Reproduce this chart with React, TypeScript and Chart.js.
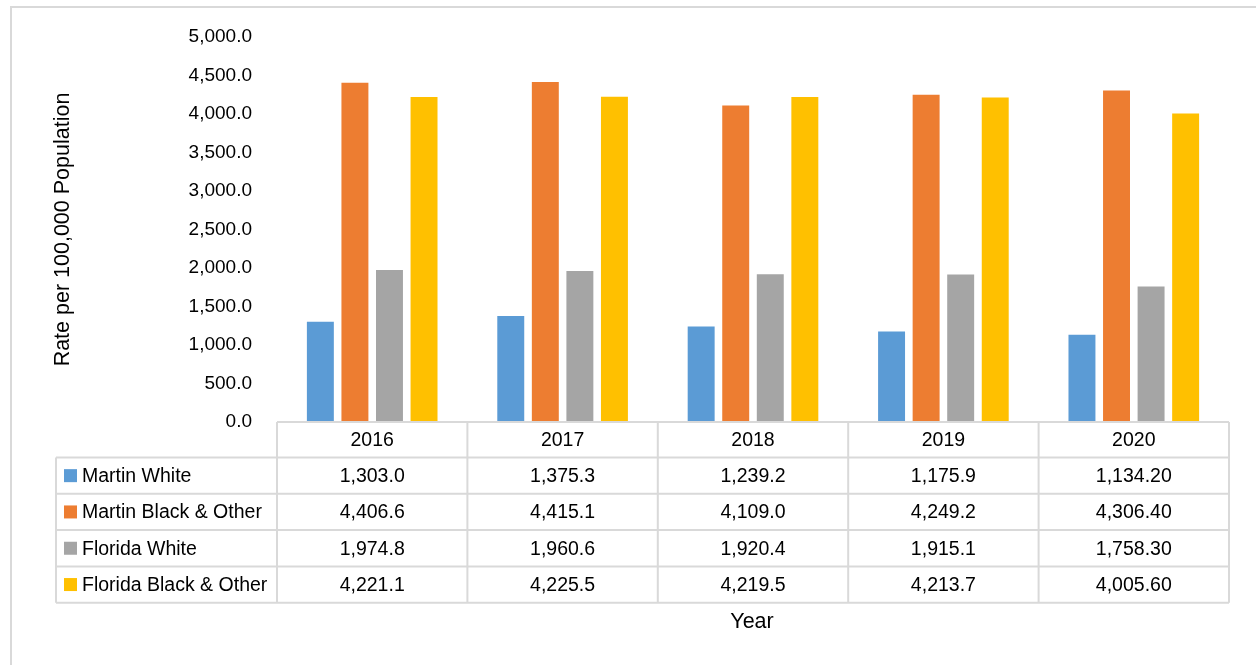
import React, { useEffect, useRef } from "react";
import { Chart, registerables } from "chart.js";

Chart.register(...registerables);

const years = ["2016", "2017", "2018", "2019", "2020"];
const yearDecimals = [1, 1, 1, 1, 2];
const seriesNames = ["Martin White", "Martin Black & Other", "Florida White", "Florida Black & Other"];
const martinWhite = [1303.0, 1375.3, 1239.2, 1175.9, 1134.2];
const martinBlack = [4406.6, 4415.1, 4109.0, 4249.2, 4306.4];
const floridaWhite = [1974.8, 1960.6, 1920.4, 1915.1, 1758.3];
const floridaBlack = [4221.1, 4225.5, 4219.5, 4213.7, 4005.6];
const seriesColors = ["#5B9BD5", "#ED7D31", "#A5A5A5", "#FFC000"];
const yMin = 0;
const yMax = 5000;
const yStep = 500;

const FONT = "'Liberation Sans', Arial, sans-serif";
const GRID = "#d9d9d9";

const fmt = (v: number, d: number) =>
  v.toLocaleString("en-US", { minimumFractionDigits: d, maximumFractionDigits: d });

const tablePlugin = {
  id: "dataTable",
  afterDraw(chart: any) {
    const ctx = chart.ctx;
    const area = chart.chartArea;
    const xs = chart.scales.x;
    const n = years.length;
    const colW = (area.right - area.left) / n;
    const headerH = 35.5;
    const rowH = 36.3;
    const labelLeft = 56;
    const top = area.bottom;
    const rowsTop = top + headerH;
    const rowsBottom = rowsTop + rowH * seriesNames.length;
    const allSeries = [martinWhite, martinBlack, floridaWhite, floridaBlack];

    ctx.save();
    // outer frame
    ctx.strokeStyle = GRID;
    ctx.lineWidth = 2;
    ctx.strokeRect(11, 7, 1400, 800);

    // table grid
    ctx.strokeStyle = GRID;
    ctx.lineWidth = 2;
    ctx.beginPath();
    // header top line
    ctx.moveTo(area.left, top);
    ctx.lineTo(area.right, top);
    // row lines
    for (let r = 0; r <= seriesNames.length; r++) {
      const y = rowsTop + r * rowH;
      ctx.moveTo(labelLeft, y);
      ctx.lineTo(area.right, y);
    }
    // vertical lines for year columns
    for (let c = 0; c <= n; c++) {
      const x = area.left + c * colW;
      ctx.moveTo(x, top);
      ctx.lineTo(x, rowsBottom);
    }
    // left label column border
    ctx.moveTo(labelLeft, rowsTop);
    ctx.lineTo(labelLeft, rowsBottom);
    ctx.stroke();

    ctx.fillStyle = "#000";
    ctx.font = `19.5px ${FONT}`;
    ctx.textBaseline = "middle";
    ctx.textAlign = "center";
    years.forEach((yr, i) => {
      const cx = xs.getPixelForValue(i);
      ctx.fillText(yr, cx, top + headerH / 2 + 1);
    });
    allSeries.forEach((vals, r) => {
      const cy = rowsTop + r * rowH + rowH / 2 + 1;
      vals.forEach((v, i) => {
        const cx = xs.getPixelForValue(i);
        ctx.fillText(fmt(v, yearDecimals[i]), cx, cy);
      });
    });
    // series labels with swatches
    ctx.textAlign = "left";
    seriesNames.forEach((name, r) => {
      const cy = rowsTop + r * rowH + rowH / 2;
      ctx.fillStyle = seriesColors[r];
      ctx.fillRect(64, cy - 6.5, 13, 13);
      ctx.fillStyle = "#000";
      ctx.fillText(name, 82, cy + 1);
    });

    // x axis title
    ctx.textAlign = "center";
    ctx.font = `21.5px ${FONT}`;
    ctx.fillText("Year", 752, 622);
    ctx.restore();
  },
};

export default function App() {
  const ref = useRef<HTMLCanvasElement | null>(null);

  useEffect(() => {
    document.body.style.margin = "0";
    const canvas = ref.current;
    if (!canvas) return;
    const data = [martinWhite, martinBlack, floridaWhite, floridaBlack];
    const chart = new Chart(canvas, {
      type: "bar",
      data: {
        labels: years,
        datasets: seriesNames.map((name, i) => ({
          label: name,
          data: data[i],
          backgroundColor: seriesColors[i],
          borderWidth: 0,
          categoryPercentage: 0.726,
          barPercentage: 0.78,
        })),
      },
      options: {
        responsive: false,
        animation: false,
        devicePixelRatio: 1,
        layout: { padding: { left: 0, top: 37, right: 27, bottom: 243 } },
        plugins: {
          legend: { display: false },
          tooltip: { enabled: false },
          title: { display: false },
        },
        scales: {
          x: {
            display: false,
            grid: { display: false },
          },
          y: {
            min: yMin,
            max: yMax,
            border: { display: false },
            grid: { display: false, drawTicks: false },
            afterFit: (scale: any) => {
              scale.width = 277;
            },
            ticks: {
              stepSize: yStep,
              padding: 25,
              color: "#000",
              font: { family: FONT, size: 19 },
              callback: (v: any) => fmt(Number(v), 1),
            },
            title: {
              display: true,
              text: "Rate per 100,000 Population",
              color: "#000",
              font: { family: FONT, size: 21.5 },
              padding: { top: 50, bottom: 0 },
            },
          },
        },
      },
      plugins: [tablePlugin],
    });
    return () => chart.destroy();
  }, []);

  return (
    <div style={{ width: 1256, height: 665, background: "#fff" }}>
      <canvas ref={ref} width={1256} height={665} style={{ display: "block" }} />
    </div>
  );
}
